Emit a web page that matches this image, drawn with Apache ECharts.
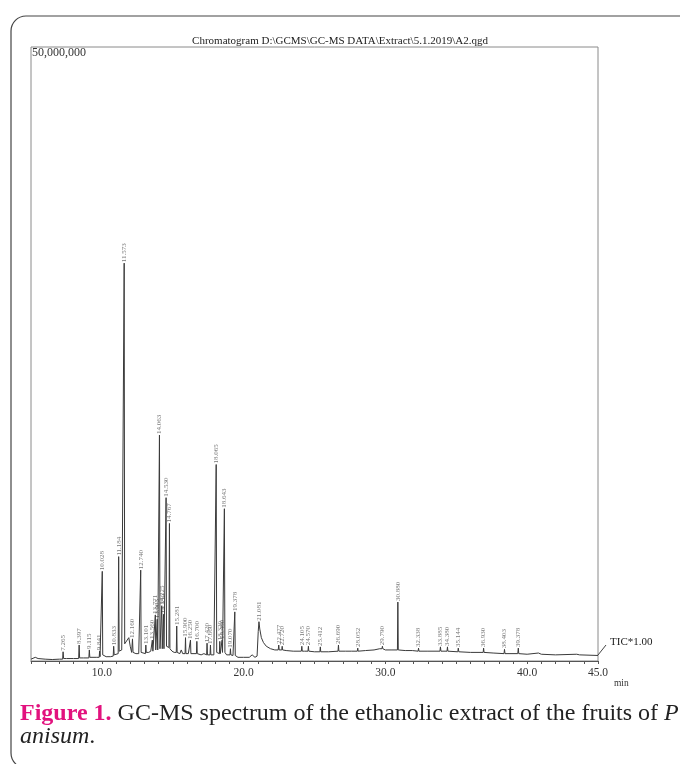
<!DOCTYPE html>
<html>
<head>
<meta charset="utf-8">
<script src="https://cdn.jsdelivr.net/npm/echarts@6/dist/echarts.min.js"></script>
<style>
  html, body { margin: 0; padding: 0; background: #ffffff; }
  #chart { width: 680px; height: 764px; }
</style>
</head>
<body>
<div id="chart"></div>
<script>
// ---- Data (retention time in min, intensity in millions of counts) ----
const chartTitle = 'Chromatogram D:\\GCMS\\GC-MS DATA\\Extract\\5.1.2019\\A2.qgd';
const xTickLabels = [10, 20, 30, 40, 45];
const yMax = 50;               // 50,000,000 counts
const traceLabel = 'TIC*1.00';

// Total ion chromatogram trace
const trace = [
  [5.0,0.15],[5.3,0.3],[5.5,0.2],[6.0,0.15],[6.5,0.12],[7.0,0.15],
  [7.23,0.15],[7.265,0.75],[7.30,0.2],[7.5,0.2],
  [8.0,0.2],[8.36,0.2],[8.397,1.3],[8.43,0.25],[8.7,0.25],
  [9.08,0.25],[9.115,0.9],[9.15,0.3],[9.6,0.3],
  [9.81,0.3],[9.841,0.8],[9.87,0.35],[9.99,0.35],[10.028,7.3],[10.06,0.5],[10.15,0.4],[10.3,0.35],
  [10.6,0.35],[10.80,0.4],[10.833,1.2],[10.87,0.5],[11.0,0.5],[11.15,0.6],[11.184,8.5],[11.22,0.8],
  [11.4,0.9],[11.54,1.0],[11.573,32.4],[11.61,1.4],[11.75,1.3],[11.9,1.9],[12.0,1.2],[12.1,0.7],
  [12.160,1.8],[12.2,0.7],[12.4,0.6],[12.6,0.6],[12.71,0.6],[12.740,7.4],[12.77,0.7],[12.9,0.6],
  [13.07,0.6],[13.101,1.3],[13.13,0.7],[13.3,0.7],[13.45,0.8],[13.53,0.7],[13.560,1.7],[13.6,0.8],
  [13.74,0.8],[13.771,3.75],[13.80,0.9],[13.87,0.9],[13.905,3.4],[13.94,0.9],[14.03,0.9],
  [14.063,18.4],[14.10,1.0],[14.19,1.0],[14.225,4.5],[14.26,1.0],[14.32,1.0],[14.350,3.8],[14.38,1.0],
  [14.5,1.0],[14.530,13.3],[14.56,1.2],[14.65,1.2],[14.73,1.1],[14.767,11.2],[14.80,1.0],[14.95,0.8],
  [15.1,0.7],[15.25,0.7],[15.281,2.85],[15.31,0.7],[15.5,0.6],[15.6,0.9],[15.7,0.6],
  [15.87,0.6],[15.900,1.9],[15.93,0.6],[16.1,0.6],[16.22,0.6],[16.250,1.7],[16.28,0.6],
  [16.5,0.6],[16.67,0.6],[16.700,1.6],[16.73,0.6],[17.0,0.5],[17.2,0.6],
  [17.39,0.5],[17.420,1.45],[17.45,0.5],[17.63,0.5],[17.660,1.3],[17.69,0.5],[17.9,0.5],
  [18.03,0.5],[18.065,16.0],[18.10,0.7],[18.2,0.6],[18.29,0.6],[18.320,1.6],[18.35,0.6],
  [18.45,0.6],[18.480,1.7],[18.51,0.7],[18.61,0.7],[18.643,12.4],[18.68,0.7],[18.8,0.5],
  [19.04,0.5],[19.070,1.0],[19.1,0.5],[19.25,0.45],[19.345,0.45],[19.378,4.0],[19.41,0.45],
  [19.6,0.3],[20.0,0.3],[20.4,0.3],[20.6,0.5],[20.8,0.3],[20.95,0.4],
  [21.03,2.4],[21.081,3.2],[21.14,2.6],[21.25,1.9],[21.4,1.5],[21.6,1.2],[21.9,1.0],[22.2,0.9],
  [22.44,0.9],[22.477,1.3],[22.51,0.9],[22.69,0.9],[22.720,1.2],[22.75,0.9],[23.0,0.85],[23.5,0.8],
  [24.07,0.8],[24.105,1.2],[24.14,0.8],[24.3,0.8],[24.54,0.8],[24.570,1.2],[24.6,0.8],[25.0,0.75],
  [25.38,0.75],[25.412,1.15],[25.44,0.75],[26.0,0.75],[26.66,0.8],[26.690,1.3],[26.72,0.8],
  [27.2,0.8],[27.6,0.8],[28.02,0.8],[28.052,1.05],[28.08,0.8],[28.6,0.85],[29.2,0.9],[29.6,1.0],
  [29.76,1.0],[29.790,1.2],[29.82,1.0],[30.0,0.9],[30.4,0.9],[30.85,0.9],[30.880,4.8],[30.91,0.9],
  [31.4,0.85],[31.9,0.85],[32.31,0.8],[32.338,1.05],[32.37,0.8],[33.0,0.8],
  [33.85,0.8],[33.885,1.15],[33.92,0.8],[34.35,0.8],[34.380,1.15],[34.41,0.8],
  [35.11,0.75],[35.144,1.05],[35.18,0.75],[36.0,0.7],[36.9,0.7],[36.930,1.05],[36.96,0.7],
  [37.6,0.65],[38.37,0.6],[38.403,0.95],[38.44,0.6],[39.34,0.6],[39.378,1.05],[39.41,0.6],
  [40.0,0.55],[40.8,0.65],[41.0,0.55],[42.0,0.5],[43.5,0.55],[43.7,0.5],[45.0,0.45]
];

// Labelled peaks: retention time and apex height
const peakTimes = [
  7.265, 8.397, 9.115, 9.841, 10.028, 10.833, 11.184, 11.573, 12.160, 12.740,
  13.101, 13.560, 13.771, 13.905, 14.063, 14.225, 14.350, 14.530, 14.767, 15.281,
  15.900, 16.250, 16.700, 17.420, 17.660, 18.065, 18.320, 18.480, 18.643, 19.070,
  19.378, 21.081, 22.477, 22.720, 24.105, 24.570, 25.412, 26.690, 28.052, 29.790,
  30.880, 32.338, 33.885, 34.380, 35.144, 36.930, 38.403, 39.378
];
const peakHeights = [
  0.75, 1.3, 0.9, 0.8, 7.3, 1.2, 8.5, 32.4, 1.8, 7.4,
  1.3, 1.7, 3.75, 3.4, 18.4, 4.5, 3.8, 13.3, 11.2, 2.85,
  1.9, 1.7, 1.6, 1.45, 1.3, 16.0, 1.6, 1.7, 12.4, 1.0,
  4.0, 3.2, 1.3, 1.2, 1.2, 1.2, 1.15, 1.3, 1.05, 1.2,
  4.8, 1.05, 1.15, 1.15, 1.05, 1.05, 0.95, 1.05
];

const serif = '"Liberation Serif", "Times New Roman", serif';
const chart = echarts.init(document.getElementById('chart'), null, { renderer: 'canvas' });

chart.setOption({
  animation: false,
  backgroundColor: '#ffffff',
  title: {
    text: chartTitle,
    left: 'center',
    top: 36,
    padding: 0,
    textStyle: { fontFamily: serif, fontSize: 11, fontWeight: 'normal', color: '#222' }
  },
  grid: {
    left: 31, right: 82, top: 47, bottom: 103,
    show: true, borderColor: '#8a8a8a', borderWidth: 1, backgroundColor: 'transparent'
  },
  xAxis: {
    type: 'value', min: 5, max: 45, interval: 1,
    name: 'min', nameLocation: 'end', nameGap: -4,
    nameTextStyle: { fontFamily: serif, fontSize: 9.5, color: '#333', align: 'center', verticalAlign: 'top', padding: [17, 0, 0, 0] },
    axisLine: { show: true, lineStyle: { color: '#555', width: 1 } },
    axisTick: { show: true, length: 3, lineStyle: { color: '#555' } },
    splitLine: { show: false },
    axisLabel: {
      fontFamily: serif, fontSize: 11.5, color: '#333', margin: 6,
      formatter: v => xTickLabels.includes(Math.round(v * 1000) / 1000) ? v.toFixed(1) : ''
    }
  },
  yAxis: {
    type: 'value', min: 0, max: yMax, interval: yMax,
    axisLine: { show: false }, axisTick: { show: false }, splitLine: { show: false },
    axisLabel: {
      inside: true, align: 'left', verticalAlign: 'top', margin: 1,
      fontFamily: serif, fontSize: 12, color: '#333',
      formatter: v => v === yMax ? (v * 1e6).toLocaleString('en-US') : ''
    }
  },
  series: [
    {
      type: 'line',
      data: trace,
      showSymbol: false,
      symbol: 'none',
      lineStyle: { color: '#3a3a3a', width: 1 },
      silent: true
    },
    {
      type: 'scatter',
      data: peakTimes.map((t, i) => [t, peakHeights[i]]),
      symbolSize: 0,
      silent: true,
      label: {
        show: true, position: 'top', distance: 1, rotate: 90,
        align: 'left', verticalAlign: 'middle',
        fontFamily: serif, fontSize: 7, color: '#555',
        formatter: p => p.value[0].toFixed(3)
      }
    }
  ],
  graphic: [
    {
      type: 'rect', silent: true,
      shape: { x: 11, y: 16, width: 720, height: 752, r: 15 },
      style: { fill: 'none', stroke: '#444', lineWidth: 1.2 }
    },
    {
      type: 'line', silent: true,
      shape: { x1: 598, y1: 655, x2: 606, y2: 645 },
      style: { stroke: '#444', lineWidth: 1 }
    },
    {
      type: 'text', silent: true, left: 610, top: 637,
      style: { text: traceLabel, fontFamily: serif, fontSize: 11, fill: '#222' }
    },
    {
      type: 'text', silent: true, left: 20, top: 702,
      style: {
        text: '{a|Figure 1.} GC-MS spectrum of the ethanolic extract of the fruits of {i|Pimpinella}',
        fontFamily: serif, fontSize: 24, fill: '#222',
        rich: {
          a: { fill: '#e2127e', fontWeight: 'bold', fontFamily: serif, fontSize: 24 },
          i: { fontStyle: 'italic', fontFamily: serif, fontSize: 24, fill: '#222' }
        }
      }
    },
    {
      type: 'text', silent: true, left: 20, top: 725,
      style: {
        text: '{i|anisum}.',
        fontFamily: serif, fontSize: 24, fill: '#222',
        rich: { i: { fontStyle: 'italic', fontFamily: serif, fontSize: 24, fill: '#222' } }
      }
    }
  ]
});
</script>
</body>
</html>
